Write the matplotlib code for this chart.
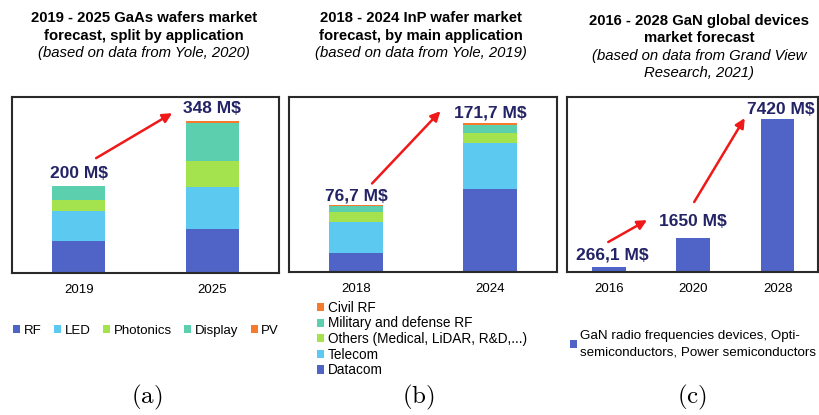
import matplotlib.pyplot as plt
import numpy as np

# GaAs (a)
gaas_years = ['2019', '2025']
gaas_rf = [73, 101]
gaas_led = [69, 96]
gaas_photonics = [25, 60]
gaas_display = [32, 87]
gaas_pv = [1, 4]
gaas_labels = ['200 M$', '348 M$']

# InP (b)
inp_years = ['2018', '2024']
inp_datacom = [22, 95]
inp_telecom = [35, 52.6]
inp_others = [11.6, 12.6]
inp_military = [6.9, 9.2]
inp_civil = [1.2, 2.3]
inp_labels = ['76,7 M$', '171,7 M$']

# GaN (c)
gan_years = ['2016', '2020', '2028']
gan_values = [266.1, 1650, 7420]
gan_labels = ['266,1 M$', '1650 M$', '7420 M$']

C_BLUE = '#4f64c6'
C_LIGHT = '#5bc9f0'
C_GREEN = '#a4e24e'
C_TEAL = '#5ccfae'
C_ORANGE = '#f47a2e'
C_LABEL = '#232366'
C_ARROW = '#f01818'

plt.rcParams['font.family'] = ['Liberation Sans', 'DejaVu Sans']
plt.rcParams['mathtext.fontset'] = 'cm'

W, H = 819, 415
fig = plt.figure(figsize=(W / 100, H / 100), dpi=100)


def px_axes(x0, y0, x1, y1):
    return fig.add_axes([x0 / W, 1 - y1 / H, (x1 - x0) / W, (y1 - y0) / H])


def style_axes(ax, years):
    ax.set_xticks(range(len(years)))
    ax.set_xticklabels(years, fontsize=9.5)
    ax.set_yticks([])
    ax.tick_params(axis='x', length=0, pad=8)
    for s in ax.spines.values():
        s.set_color('#2a2a2a')
        s.set_linewidth(1.5)


def stacked(ax, layers, colors, names):
    x = np.arange(len(layers[0]))
    bottom = np.zeros(len(x))
    handles = []
    for vals, c, n in zip(layers, colors, names):
        h = ax.bar(x, vals, 0.4, bottom=bottom, color=c, label=n)
        handles.append(h)
        bottom += np.array(vals)
    return bottom, handles


def value_label(ax, x, y, text, dx, dy):
    ax.annotate(text, (x, y), xytext=(dx, dy), textcoords='offset pixels',
                ha='center', va='bottom', fontsize=12.5, fontweight='bold',
                color=C_LABEL)


def arrow(ax, p0, p1):
    ax.annotate('', xy=p1, xytext=p0,
                arrowprops=dict(arrowstyle='-|>', color=C_ARROW, lw=1.8,
                                mutation_scale=14, shrinkA=0, shrinkB=0))


def title(xc, y, lines):
    for txt, bold in lines:
        fig.text(xc / W, 1 - y / H, txt, ha='center', va='center', fontsize=10.7,
                 fontweight='bold' if bold else 'normal',
                 fontstyle='normal' if bold else 'italic')
        y += 17.3


# (a)
ax1 = px_axes(12, 97, 279, 273)
tot_a, h_a = stacked(ax1, [gaas_rf, gaas_led, gaas_photonics, gaas_display, gaas_pv],
                     [C_BLUE, C_LIGHT, C_GREEN, C_TEAL, C_ORANGE],
                     ['RF', 'LED', 'Photonics', 'Display', 'PV'])
ax1.set_xlim(-0.5, 1.5)
ax1.set_ylim(0, 403)
style_axes(ax1, gaas_years)
for i, t in enumerate(gaas_labels):
    value_label(ax1, i, tot_a[i], t, 0, 5)
arrow(ax1, (0.13, tot_a[0] + 63), (0.7, tot_a[1] + 18))
ax1.legend(handles=h_a, loc='center', bbox_to_anchor=(146 / W, 1 - 331 / H),
           bbox_transform=fig.transFigure, ncol=5, frameon=False, fontsize=9.5,
           handlelength=0.55, handleheight=0.55, handletextpad=0.25,
           columnspacing=0.95, borderpad=0)

# (b)
ax2 = px_axes(289, 97, 557, 272)
tot_b, h_b = stacked(ax2, [inp_datacom, inp_telecom, inp_others, inp_military, inp_civil],
                     [C_BLUE, C_LIGHT, C_GREEN, C_TEAL, C_ORANGE],
                     ['Datacom', 'Telecom', 'Others (Medical, LiDAR, R&D,...)',
                      'Military and defense RF', 'Civil RF'])
ax2.set_xlim(-0.5, 1.5)
ax2.set_ylim(0, 201)
style_axes(ax2, inp_years)
for i, t in enumerate(inp_labels):
    value_label(ax2, i, tot_b[i], t, 0, 2)
arrow(ax2, (0.12, tot_b[0] + 25), (0.63, tot_b[1] + 13))
ax2.legend(handles=h_b[::-1], loc='upper left', bbox_to_anchor=(310 / W, 1 - 294 / H),
           bbox_transform=fig.transFigure, ncol=1, frameon=False, fontsize=9.8,
           handlelength=0.55, handleheight=0.55, handletextpad=0.25,
           labelspacing=0.12, borderpad=0)

# (c)
ax3 = px_axes(567, 97, 818, 272)
h_c = ax3.bar(range(len(gan_values)), gan_values, 0.4, color=C_BLUE,
              label='GaN radio frequencies devices, Opti-\nsemiconductors, Power semiconductors')
ax3.set_xlim(-0.5, 2.48)
ax3.set_ylim(0, 8500)
style_axes(ax3, gan_years)
offs = [(3, 4), (0, 9), (3, 2)]
for i, t in enumerate(gan_labels):
    value_label(ax3, i, gan_values[i], t, *offs[i])
arrow(ax3, (-0.01, gan_values[0] + 1190), (0.45, gan_values[1] + 870))
arrow(ax3, (1.01, gan_values[1] + 1750), (1.61, gan_values[2] + 55))
leg = ax3.legend(handles=[h_c], loc='upper left', bbox_to_anchor=(563 / W, 1 - 323 / H),
                 bbox_transform=fig.transFigure, frameon=False, fontsize=9.6,
                 handlelength=0.55, handleheight=0.55, handletextpad=0.25, borderpad=0)
for t in leg.get_texts():
    t.set_multialignment('left')
    t.set_linespacing(1.5)

# titles
title(144, 18.5, [('2019 - 2025 GaAs wafers market', True),
                  ('forecast, split by application', True),
                  ('(based on data from Yole, 2020)', False)])
title(421, 18.5, [('2018 - 2024 InP wafer market', True),
                  ('forecast, by main application', True),
                  ('(based on data from Yole, 2019)', False)])
title(699, 21, [('2016 - 2028 GaN global devices', True),
                ('market forecast', True),
                ('(based on data from Grand View', False),
                ('Research, 2021)', False)])

# sub-figure letters
for xc, letter in [(147, 'a'), (418, 'b'), (692, 'c')]:
    fig.text(xc / W, 1 - 397 / H, r'$\mathrm{(' + letter + ')}$', ha='center',
             va='center', fontsize=18)

fig.savefig('out.png', dpi=100)
